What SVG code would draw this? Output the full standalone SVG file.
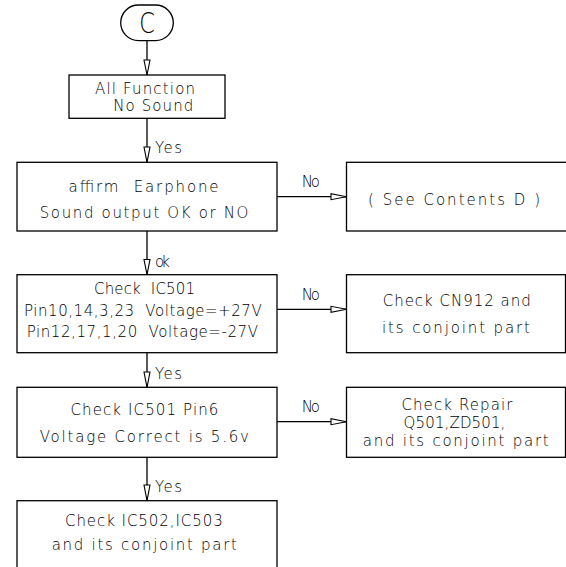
<svg xmlns="http://www.w3.org/2000/svg" width="566" height="567" viewBox="0 0 566 567">
<defs>
<style>
.box{fill:none;stroke:#000;stroke-width:1.3}
.ln{fill:none;stroke:#000;stroke-width:1.3}
.ah{fill:#fff;stroke:#000;stroke-width:1.1}
text{font-family:"DejaVu Sans","Liberation Sans",sans-serif;font-size:15px;font-weight:200;fill:#000;white-space:pre}
.big{font-size:28px}
</style>
</defs>
<rect width="566" height="567" fill="#fff"/>
<g id="connectors">
<line class="ln" x1="147" y1="40.7" x2="147" y2="75"/>
<polygon class="ah" points="144,60 150,60 147,75"/>
<line class="ln" x1="147" y1="118.3" x2="147" y2="162.3"/>
<polygon class="ah" points="144,147 150,147 147,162.3"/>
<text x="155" y="153" textLength="27" lengthAdjust="spacing">Yes</text>
<line class="ln" x1="147" y1="231" x2="147" y2="274.7"/>
<polygon class="ah" points="144,259.5 150,259.5 147,274.7"/>
<text x="155" y="267" textLength="15" lengthAdjust="spacing">ok</text>
<line class="ln" x1="147" y1="352.7" x2="147" y2="387.3"/>
<polygon class="ah" points="144,372 150,372 147,387.3"/>
<text x="155" y="379" textLength="27" lengthAdjust="spacing">Yes</text>
<line class="ln" x1="147" y1="457.3" x2="147" y2="500.7"/>
<polygon class="ah" points="144,485 150,485 147,500.7"/>
<text x="155" y="492" textLength="27" lengthAdjust="spacing">Yes</text>
<line class="ln" x1="277" y1="196.7" x2="346.5" y2="196.7"/>
<polygon class="ah" points="331,193.7 331,199.7 346.5,196.7"/>
<text x="301.7" y="187" textLength="18.3" lengthAdjust="spacing">No</text>
<line class="ln" x1="277" y1="309.3" x2="346.5" y2="309.3"/>
<polygon class="ah" points="331,306.3 331,312.3 346.5,309.3"/>
<text x="301.7" y="299.6" textLength="18.3" lengthAdjust="spacing">No</text>
<line class="ln" x1="277" y1="421.7" x2="346.5" y2="421.7"/>
<polygon class="ah" points="331,418.7 331,424.7 346.5,421.7"/>
<text x="301.7" y="412" textLength="18.3" lengthAdjust="spacing">No</text>
</g>
<g id="start">
<rect class="box" x="120.7" y="5" width="52.6" height="35.6" rx="17.8"/>
<text class="big" x="147" y="33.5" text-anchor="middle" transform="translate(147 0) scale(0.8 1) translate(-147 0)">C</text>
</g>
<g id="n1">
<rect class="box" x="69" y="75" width="156" height="43.3"/>
<text x="95" y="94" textLength="100" lengthAdjust="spacing">All Function</text>
<text x="113.3" y="110.7" textLength="80" lengthAdjust="spacing">No Sound</text>
</g>
<g id="n2">
<rect class="box" x="17" y="162.3" width="260" height="68.7"/>
<text x="68.6" y="192" textLength="150" lengthAdjust="spacing">affirm  Earphone</text>
<text x="39.7" y="218" textLength="208.7" lengthAdjust="spacing">Sound output OK or NO</text>
</g>
<g id="n2r">
<rect class="box" x="346.5" y="162.3" width="221" height="68.7"/>
<text x="368" y="205" textLength="172" lengthAdjust="spacing">( See Contents D )</text>
</g>
<g id="n3">
<rect class="box" x="17" y="274.7" width="260" height="78"/>
<text x="94" y="293.5" textLength="101" lengthAdjust="spacing">Check  IC501</text>
<text x="24" y="315.5" textLength="237.7" lengthAdjust="spacing">Pin10,14,3,23  Voltage=+27V</text>
<text x="26.7" y="336.5" textLength="231.3" lengthAdjust="spacing">Pin12,17,1,20  Voltage=-27V</text>
</g>
<g id="n3r">
<rect class="box" x="346.5" y="274.7" width="219" height="78"/>
<text x="382.7" y="306" textLength="148" lengthAdjust="spacing">Check CN912 and</text>
<text x="382" y="333" textLength="148" lengthAdjust="spacing">its conjoint part</text>
</g>
<g id="n4">
<rect class="box" x="17" y="387.3" width="260" height="70"/>
<text x="70.4" y="414.5" textLength="148" lengthAdjust="spacing">Check IC501 Pin6</text>
<text x="39.7" y="442" textLength="209.3" lengthAdjust="spacing">Voltage Correct is 5.6v</text>
</g>
<g id="n4r">
<rect class="box" x="346.5" y="387.3" width="219" height="70"/>
<text x="401.4" y="410" textLength="111" lengthAdjust="spacing">Check Repair</text>
<text x="403.6" y="428" textLength="101.8" lengthAdjust="spacing">Q501,ZD501,</text>
<text x="362.8" y="446" textLength="185.9" lengthAdjust="spacing">and its conjoint part</text>
</g>
<g id="n5">
<rect class="box" x="17" y="500.7" width="260" height="75"/>
<text x="65" y="526" textLength="157.7" lengthAdjust="spacing">Check IC502,IC503</text>
<text x="51.7" y="550" textLength="185.3" lengthAdjust="spacing">and its conjoint part</text>
</g>
</svg>
